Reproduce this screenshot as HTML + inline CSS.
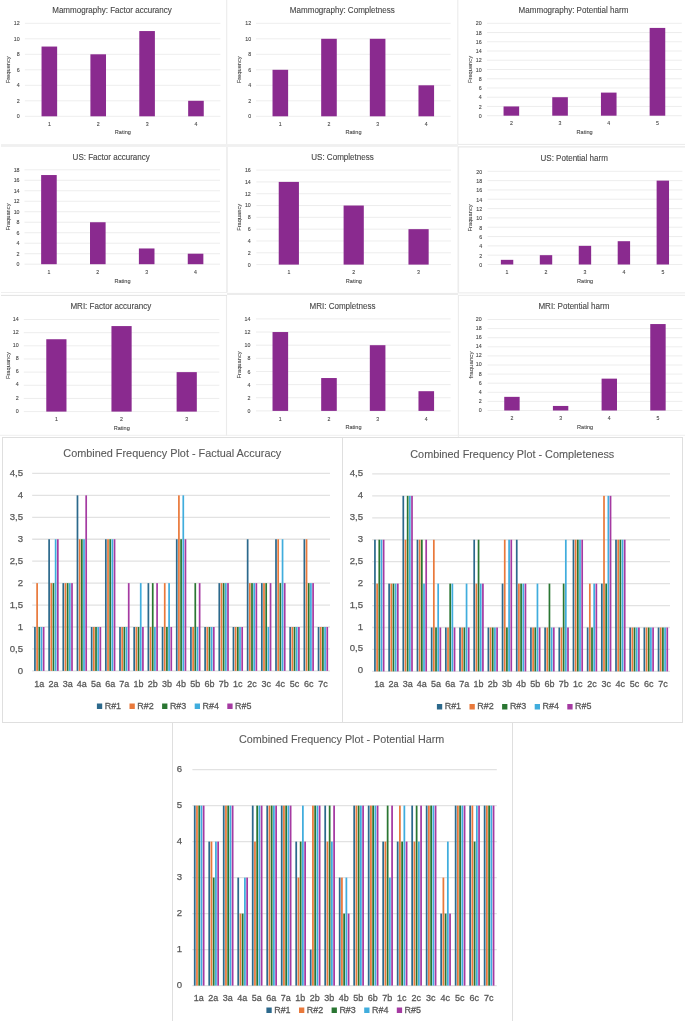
<!DOCTYPE html>
<html><head><meta charset="utf-8"><title>Frequency plots</title>
<style>
html,body{margin:0;padding:0;background:#fff;}
body{width:685px;height:1021px;overflow:hidden;}
svg{display:block;font-family:"Liberation Sans", sans-serif;}
</style></head><body>
<svg width="685" height="1021" viewBox="0 0 685 1021">
<rect width="685" height="1021" fill="#ffffff"/>
<!--BORDERS-->
<line x1="226.70" y1="0.00" x2="226.70" y2="144.50" stroke="#ebebeb" stroke-width="1.1"/>
<line x1="226.50" y1="295.00" x2="226.50" y2="436.00" stroke="#ebebeb" stroke-width="1.1"/>
<line x1="457.80" y1="0.00" x2="457.80" y2="144.50" stroke="#ebebeb" stroke-width="1.1"/>
<line x1="458.40" y1="295.30" x2="458.40" y2="436.70" stroke="#ebebeb" stroke-width="1.1"/>
<rect x="226.00" y="146.50" width="1.90" height="146.00" fill="#efefef"/>
<rect x="457.50" y="147.00" width="1.60" height="145.50" fill="#ececec"/>
<rect x="1.00" y="144.10" width="457.00" height="2.80" fill="#f0f0f0"/>
<line x1="458.00" y1="144.40" x2="685.00" y2="144.40" stroke="#eaeaea" stroke-width="1"/>
<line x1="458.00" y1="146.90" x2="685.00" y2="146.90" stroke="#e4e4e4" stroke-width="1"/>
<line x1="1.00" y1="292.50" x2="227.00" y2="292.50" stroke="#efefef" stroke-width="1"/>
<line x1="1.00" y1="295.40" x2="227.00" y2="295.40" stroke="#e2e2e2" stroke-width="1"/>
<rect x="227.00" y="292.90" width="231.00" height="2.10" fill="#ececec"/>
<line x1="458.00" y1="292.90" x2="685.00" y2="292.90" stroke="#eaeaea" stroke-width="1"/>
<line x1="458.00" y1="295.30" x2="685.00" y2="295.30" stroke="#eaeaea" stroke-width="1"/>
<line x1="0.00" y1="435.30" x2="685.00" y2="435.30" stroke="#efefef" stroke-width="1"/>
<line x1="24.90" y1="116.30" x2="220.40" y2="116.30" stroke="#e0e0e0" stroke-width="0.6"/>
<text x="19.60" y="116.35" font-size="5.3" text-anchor="end" dominant-baseline="central" fill="#484848" stroke="#484848" stroke-width="0.1">0</text>
<line x1="24.90" y1="100.80" x2="220.40" y2="100.80" stroke="#e0e0e0" stroke-width="0.6"/>
<text x="19.60" y="100.85" font-size="5.3" text-anchor="end" dominant-baseline="central" fill="#484848" stroke="#484848" stroke-width="0.1">2</text>
<line x1="24.90" y1="85.30" x2="220.40" y2="85.30" stroke="#e0e0e0" stroke-width="0.6"/>
<text x="19.60" y="85.35" font-size="5.3" text-anchor="end" dominant-baseline="central" fill="#484848" stroke="#484848" stroke-width="0.1">4</text>
<line x1="24.90" y1="69.80" x2="220.40" y2="69.80" stroke="#e0e0e0" stroke-width="0.6"/>
<text x="19.60" y="69.85" font-size="5.3" text-anchor="end" dominant-baseline="central" fill="#484848" stroke="#484848" stroke-width="0.1">6</text>
<line x1="24.90" y1="54.30" x2="220.40" y2="54.30" stroke="#e0e0e0" stroke-width="0.6"/>
<text x="19.60" y="54.35" font-size="5.3" text-anchor="end" dominant-baseline="central" fill="#484848" stroke="#484848" stroke-width="0.1">8</text>
<line x1="24.90" y1="38.80" x2="220.40" y2="38.80" stroke="#e0e0e0" stroke-width="0.6"/>
<text x="19.60" y="38.85" font-size="5.3" text-anchor="end" dominant-baseline="central" fill="#484848" stroke="#484848" stroke-width="0.1">10</text>
<line x1="24.90" y1="23.30" x2="220.40" y2="23.30" stroke="#e0e0e0" stroke-width="0.6"/>
<text x="19.60" y="23.35" font-size="5.3" text-anchor="end" dominant-baseline="central" fill="#484848" stroke="#484848" stroke-width="0.1">12</text>
<rect x="41.54" y="46.55" width="15.60" height="69.75" fill="#8a2a8f"/>
<text x="49.34" y="124.20" font-size="5.2" text-anchor="middle" dominant-baseline="central" fill="#484848" stroke="#484848" stroke-width="0.1">1</text>
<rect x="90.41" y="54.30" width="15.60" height="62.00" fill="#8a2a8f"/>
<text x="98.21" y="124.20" font-size="5.2" text-anchor="middle" dominant-baseline="central" fill="#484848" stroke="#484848" stroke-width="0.1">2</text>
<rect x="139.29" y="31.05" width="15.60" height="85.25" fill="#8a2a8f"/>
<text x="147.09" y="124.20" font-size="5.2" text-anchor="middle" dominant-baseline="central" fill="#484848" stroke="#484848" stroke-width="0.1">3</text>
<rect x="188.16" y="100.80" width="15.60" height="15.50" fill="#8a2a8f"/>
<text x="195.96" y="124.20" font-size="5.2" text-anchor="middle" dominant-baseline="central" fill="#484848" stroke="#484848" stroke-width="0.1">4</text>
<text x="122.85" y="131.60" font-size="6.1" text-anchor="middle" dominant-baseline="central" fill="#484848" stroke="#484848" stroke-width="0.1" textLength="16.1" lengthAdjust="spacingAndGlyphs">Rating</text>
<text x="7.40" y="69.80" font-size="6.1" text-anchor="middle" dominant-baseline="central" fill="#484848" stroke="#484848" stroke-width="0.1" textLength="27.0" lengthAdjust="spacingAndGlyphs" transform="rotate(-90 7.40 69.80)">Frequency</text>
<text x="112.00" y="10.00" font-size="8.6" text-anchor="middle" dominant-baseline="central" fill="#484848" stroke="#484848" stroke-width="0.12" textLength="119.6" lengthAdjust="spacingAndGlyphs">Mammography: Factor accurancy</text>
<line x1="256.00" y1="116.30" x2="450.60" y2="116.30" stroke="#e0e0e0" stroke-width="0.6"/>
<text x="251.10" y="116.35" font-size="5.3" text-anchor="end" dominant-baseline="central" fill="#484848" stroke="#484848" stroke-width="0.1">0</text>
<line x1="256.00" y1="100.80" x2="450.60" y2="100.80" stroke="#e0e0e0" stroke-width="0.6"/>
<text x="251.10" y="100.85" font-size="5.3" text-anchor="end" dominant-baseline="central" fill="#484848" stroke="#484848" stroke-width="0.1">2</text>
<line x1="256.00" y1="85.30" x2="450.60" y2="85.30" stroke="#e0e0e0" stroke-width="0.6"/>
<text x="251.10" y="85.35" font-size="5.3" text-anchor="end" dominant-baseline="central" fill="#484848" stroke="#484848" stroke-width="0.1">4</text>
<line x1="256.00" y1="69.80" x2="450.60" y2="69.80" stroke="#e0e0e0" stroke-width="0.6"/>
<text x="251.10" y="69.85" font-size="5.3" text-anchor="end" dominant-baseline="central" fill="#484848" stroke="#484848" stroke-width="0.1">6</text>
<line x1="256.00" y1="54.30" x2="450.60" y2="54.30" stroke="#e0e0e0" stroke-width="0.6"/>
<text x="251.10" y="54.35" font-size="5.3" text-anchor="end" dominant-baseline="central" fill="#484848" stroke="#484848" stroke-width="0.1">8</text>
<line x1="256.00" y1="38.80" x2="450.60" y2="38.80" stroke="#e0e0e0" stroke-width="0.6"/>
<text x="251.10" y="38.85" font-size="5.3" text-anchor="end" dominant-baseline="central" fill="#484848" stroke="#484848" stroke-width="0.1">10</text>
<line x1="256.00" y1="23.30" x2="450.60" y2="23.30" stroke="#e0e0e0" stroke-width="0.6"/>
<text x="251.10" y="23.35" font-size="5.3" text-anchor="end" dominant-baseline="central" fill="#484848" stroke="#484848" stroke-width="0.1">12</text>
<rect x="272.52" y="69.80" width="15.60" height="46.50" fill="#8a2a8f"/>
<text x="280.32" y="124.20" font-size="5.2" text-anchor="middle" dominant-baseline="central" fill="#484848" stroke="#484848" stroke-width="0.1">1</text>
<rect x="321.18" y="38.80" width="15.60" height="77.50" fill="#8a2a8f"/>
<text x="328.98" y="124.20" font-size="5.2" text-anchor="middle" dominant-baseline="central" fill="#484848" stroke="#484848" stroke-width="0.1">2</text>
<rect x="369.82" y="38.80" width="15.60" height="77.50" fill="#8a2a8f"/>
<text x="377.62" y="124.20" font-size="5.2" text-anchor="middle" dominant-baseline="central" fill="#484848" stroke="#484848" stroke-width="0.1">3</text>
<rect x="418.48" y="85.30" width="15.60" height="31.00" fill="#8a2a8f"/>
<text x="426.28" y="124.20" font-size="5.2" text-anchor="middle" dominant-baseline="central" fill="#484848" stroke="#484848" stroke-width="0.1">4</text>
<text x="353.50" y="131.60" font-size="6.1" text-anchor="middle" dominant-baseline="central" fill="#484848" stroke="#484848" stroke-width="0.1" textLength="16.1" lengthAdjust="spacingAndGlyphs">Rating</text>
<text x="238.50" y="69.80" font-size="6.1" text-anchor="middle" dominant-baseline="central" fill="#484848" stroke="#484848" stroke-width="0.1" textLength="27.0" lengthAdjust="spacingAndGlyphs" transform="rotate(-90 238.50 69.80)">Frequency</text>
<text x="342.30" y="10.00" font-size="8.6" text-anchor="middle" dominant-baseline="central" fill="#484848" stroke="#484848" stroke-width="0.12" textLength="104.9" lengthAdjust="spacingAndGlyphs">Mammography: Completness</text>
<line x1="487.00" y1="115.70" x2="681.80" y2="115.70" stroke="#e0e0e0" stroke-width="0.6"/>
<text x="481.70" y="115.85" font-size="5.3" text-anchor="end" dominant-baseline="central" fill="#484848" stroke="#484848" stroke-width="0.1">0</text>
<line x1="487.00" y1="106.46" x2="681.80" y2="106.46" stroke="#e0e0e0" stroke-width="0.6"/>
<text x="481.70" y="106.61" font-size="5.3" text-anchor="end" dominant-baseline="central" fill="#484848" stroke="#484848" stroke-width="0.1">2</text>
<line x1="487.00" y1="97.22" x2="681.80" y2="97.22" stroke="#e0e0e0" stroke-width="0.6"/>
<text x="481.70" y="97.37" font-size="5.3" text-anchor="end" dominant-baseline="central" fill="#484848" stroke="#484848" stroke-width="0.1">4</text>
<line x1="487.00" y1="87.98" x2="681.80" y2="87.98" stroke="#e0e0e0" stroke-width="0.6"/>
<text x="481.70" y="88.13" font-size="5.3" text-anchor="end" dominant-baseline="central" fill="#484848" stroke="#484848" stroke-width="0.1">6</text>
<line x1="487.00" y1="78.74" x2="681.80" y2="78.74" stroke="#e0e0e0" stroke-width="0.6"/>
<text x="481.70" y="78.89" font-size="5.3" text-anchor="end" dominant-baseline="central" fill="#484848" stroke="#484848" stroke-width="0.1">8</text>
<line x1="487.00" y1="69.50" x2="681.80" y2="69.50" stroke="#e0e0e0" stroke-width="0.6"/>
<text x="481.70" y="69.65" font-size="5.3" text-anchor="end" dominant-baseline="central" fill="#484848" stroke="#484848" stroke-width="0.1">10</text>
<line x1="487.00" y1="60.26" x2="681.80" y2="60.26" stroke="#e0e0e0" stroke-width="0.6"/>
<text x="481.70" y="60.41" font-size="5.3" text-anchor="end" dominant-baseline="central" fill="#484848" stroke="#484848" stroke-width="0.1">12</text>
<line x1="487.00" y1="51.02" x2="681.80" y2="51.02" stroke="#e0e0e0" stroke-width="0.6"/>
<text x="481.70" y="51.17" font-size="5.3" text-anchor="end" dominant-baseline="central" fill="#484848" stroke="#484848" stroke-width="0.1">14</text>
<line x1="487.00" y1="41.78" x2="681.80" y2="41.78" stroke="#e0e0e0" stroke-width="0.6"/>
<text x="481.70" y="41.93" font-size="5.3" text-anchor="end" dominant-baseline="central" fill="#484848" stroke="#484848" stroke-width="0.1">16</text>
<line x1="487.00" y1="32.54" x2="681.80" y2="32.54" stroke="#e0e0e0" stroke-width="0.6"/>
<text x="481.70" y="32.69" font-size="5.3" text-anchor="end" dominant-baseline="central" fill="#484848" stroke="#484848" stroke-width="0.1">18</text>
<line x1="487.00" y1="23.30" x2="681.80" y2="23.30" stroke="#e0e0e0" stroke-width="0.6"/>
<text x="481.70" y="23.45" font-size="5.3" text-anchor="end" dominant-baseline="central" fill="#484848" stroke="#484848" stroke-width="0.1">20</text>
<rect x="503.55" y="106.46" width="15.60" height="9.24" fill="#8a2a8f"/>
<text x="511.35" y="123.00" font-size="5.2" text-anchor="middle" dominant-baseline="central" fill="#484848" stroke="#484848" stroke-width="0.1">2</text>
<rect x="552.25" y="97.22" width="15.60" height="18.48" fill="#8a2a8f"/>
<text x="560.05" y="123.00" font-size="5.2" text-anchor="middle" dominant-baseline="central" fill="#484848" stroke="#484848" stroke-width="0.1">3</text>
<rect x="600.95" y="92.60" width="15.60" height="23.10" fill="#8a2a8f"/>
<text x="608.75" y="123.00" font-size="5.2" text-anchor="middle" dominant-baseline="central" fill="#484848" stroke="#484848" stroke-width="0.1">4</text>
<rect x="649.65" y="27.92" width="15.60" height="87.78" fill="#8a2a8f"/>
<text x="657.45" y="123.00" font-size="5.2" text-anchor="middle" dominant-baseline="central" fill="#484848" stroke="#484848" stroke-width="0.1">5</text>
<text x="584.60" y="131.50" font-size="6.1" text-anchor="middle" dominant-baseline="central" fill="#484848" stroke="#484848" stroke-width="0.1" textLength="16.1" lengthAdjust="spacingAndGlyphs">Rating</text>
<text x="469.50" y="69.50" font-size="6.1" text-anchor="middle" dominant-baseline="central" fill="#484848" stroke="#484848" stroke-width="0.1" textLength="27.0" lengthAdjust="spacingAndGlyphs" transform="rotate(-90 469.50 69.50)">Frequency</text>
<text x="573.50" y="10.00" font-size="8.6" text-anchor="middle" dominant-baseline="central" fill="#484848" stroke="#484848" stroke-width="0.12" textLength="109.8" lengthAdjust="spacingAndGlyphs">Mammography: Potential harm</text>
<line x1="24.50" y1="264.20" x2="220.00" y2="264.20" stroke="#e0e0e0" stroke-width="0.6"/>
<text x="19.55" y="264.15" font-size="5.3" text-anchor="end" dominant-baseline="central" fill="#484848" stroke="#484848" stroke-width="0.1">0</text>
<line x1="24.50" y1="253.71" x2="220.00" y2="253.71" stroke="#e0e0e0" stroke-width="0.6"/>
<text x="19.55" y="253.66" font-size="5.3" text-anchor="end" dominant-baseline="central" fill="#484848" stroke="#484848" stroke-width="0.1">2</text>
<line x1="24.50" y1="243.22" x2="220.00" y2="243.22" stroke="#e0e0e0" stroke-width="0.6"/>
<text x="19.55" y="243.17" font-size="5.3" text-anchor="end" dominant-baseline="central" fill="#484848" stroke="#484848" stroke-width="0.1">4</text>
<line x1="24.50" y1="232.73" x2="220.00" y2="232.73" stroke="#e0e0e0" stroke-width="0.6"/>
<text x="19.55" y="232.68" font-size="5.3" text-anchor="end" dominant-baseline="central" fill="#484848" stroke="#484848" stroke-width="0.1">6</text>
<line x1="24.50" y1="222.24" x2="220.00" y2="222.24" stroke="#e0e0e0" stroke-width="0.6"/>
<text x="19.55" y="222.19" font-size="5.3" text-anchor="end" dominant-baseline="central" fill="#484848" stroke="#484848" stroke-width="0.1">8</text>
<line x1="24.50" y1="211.76" x2="220.00" y2="211.76" stroke="#e0e0e0" stroke-width="0.6"/>
<text x="19.55" y="211.71" font-size="5.3" text-anchor="end" dominant-baseline="central" fill="#484848" stroke="#484848" stroke-width="0.1">10</text>
<line x1="24.50" y1="201.27" x2="220.00" y2="201.27" stroke="#e0e0e0" stroke-width="0.6"/>
<text x="19.55" y="201.22" font-size="5.3" text-anchor="end" dominant-baseline="central" fill="#484848" stroke="#484848" stroke-width="0.1">12</text>
<line x1="24.50" y1="190.78" x2="220.00" y2="190.78" stroke="#e0e0e0" stroke-width="0.6"/>
<text x="19.55" y="190.73" font-size="5.3" text-anchor="end" dominant-baseline="central" fill="#484848" stroke="#484848" stroke-width="0.1">14</text>
<line x1="24.50" y1="180.29" x2="220.00" y2="180.29" stroke="#e0e0e0" stroke-width="0.6"/>
<text x="19.55" y="180.24" font-size="5.3" text-anchor="end" dominant-baseline="central" fill="#484848" stroke="#484848" stroke-width="0.1">16</text>
<line x1="24.50" y1="169.80" x2="220.00" y2="169.80" stroke="#e0e0e0" stroke-width="0.6"/>
<text x="19.55" y="169.75" font-size="5.3" text-anchor="end" dominant-baseline="central" fill="#484848" stroke="#484848" stroke-width="0.1">18</text>
<rect x="41.14" y="175.04" width="15.60" height="89.16" fill="#8a2a8f"/>
<text x="48.94" y="272.00" font-size="5.2" text-anchor="middle" dominant-baseline="central" fill="#484848" stroke="#484848" stroke-width="0.1">1</text>
<rect x="90.01" y="222.24" width="15.60" height="41.96" fill="#8a2a8f"/>
<text x="97.81" y="272.00" font-size="5.2" text-anchor="middle" dominant-baseline="central" fill="#484848" stroke="#484848" stroke-width="0.1">2</text>
<rect x="138.89" y="248.47" width="15.60" height="15.73" fill="#8a2a8f"/>
<text x="146.69" y="272.00" font-size="5.2" text-anchor="middle" dominant-baseline="central" fill="#484848" stroke="#484848" stroke-width="0.1">3</text>
<rect x="187.76" y="253.71" width="15.60" height="10.49" fill="#8a2a8f"/>
<text x="195.56" y="272.00" font-size="5.2" text-anchor="middle" dominant-baseline="central" fill="#484848" stroke="#484848" stroke-width="0.1">4</text>
<text x="122.45" y="280.20" font-size="6.1" text-anchor="middle" dominant-baseline="central" fill="#484848" stroke="#484848" stroke-width="0.1" textLength="16.1" lengthAdjust="spacingAndGlyphs">Rating</text>
<text x="7.40" y="217.00" font-size="6.1" text-anchor="middle" dominant-baseline="central" fill="#484848" stroke="#484848" stroke-width="0.1" textLength="27.0" lengthAdjust="spacingAndGlyphs" transform="rotate(-90 7.40 217.00)">Fraquancy</text>
<text x="111.20" y="156.50" font-size="8.6" text-anchor="middle" dominant-baseline="central" fill="#484848" stroke="#484848" stroke-width="0.12" textLength="77.2" lengthAdjust="spacingAndGlyphs">US: Factor accurancy</text>
<line x1="256.40" y1="264.60" x2="451.00" y2="264.60" stroke="#e0e0e0" stroke-width="0.6"/>
<text x="250.80" y="264.55" font-size="5.3" text-anchor="end" dominant-baseline="central" fill="#484848" stroke="#484848" stroke-width="0.1">0</text>
<line x1="256.40" y1="252.79" x2="451.00" y2="252.79" stroke="#e0e0e0" stroke-width="0.6"/>
<text x="250.80" y="252.74" font-size="5.3" text-anchor="end" dominant-baseline="central" fill="#484848" stroke="#484848" stroke-width="0.1">2</text>
<line x1="256.40" y1="240.98" x2="451.00" y2="240.98" stroke="#e0e0e0" stroke-width="0.6"/>
<text x="250.80" y="240.93" font-size="5.3" text-anchor="end" dominant-baseline="central" fill="#484848" stroke="#484848" stroke-width="0.1">4</text>
<line x1="256.40" y1="229.16" x2="451.00" y2="229.16" stroke="#e0e0e0" stroke-width="0.6"/>
<text x="250.80" y="229.11" font-size="5.3" text-anchor="end" dominant-baseline="central" fill="#484848" stroke="#484848" stroke-width="0.1">6</text>
<line x1="256.40" y1="217.35" x2="451.00" y2="217.35" stroke="#e0e0e0" stroke-width="0.6"/>
<text x="250.80" y="217.30" font-size="5.3" text-anchor="end" dominant-baseline="central" fill="#484848" stroke="#484848" stroke-width="0.1">8</text>
<line x1="256.40" y1="205.54" x2="451.00" y2="205.54" stroke="#e0e0e0" stroke-width="0.6"/>
<text x="250.80" y="205.49" font-size="5.3" text-anchor="end" dominant-baseline="central" fill="#484848" stroke="#484848" stroke-width="0.1">10</text>
<line x1="256.40" y1="193.72" x2="451.00" y2="193.72" stroke="#e0e0e0" stroke-width="0.6"/>
<text x="250.80" y="193.68" font-size="5.3" text-anchor="end" dominant-baseline="central" fill="#484848" stroke="#484848" stroke-width="0.1">12</text>
<line x1="256.40" y1="181.91" x2="451.00" y2="181.91" stroke="#e0e0e0" stroke-width="0.6"/>
<text x="250.80" y="181.86" font-size="5.3" text-anchor="end" dominant-baseline="central" fill="#484848" stroke="#484848" stroke-width="0.1">14</text>
<line x1="256.40" y1="170.10" x2="451.00" y2="170.10" stroke="#e0e0e0" stroke-width="0.6"/>
<text x="250.80" y="170.05" font-size="5.3" text-anchor="end" dominant-baseline="central" fill="#484848" stroke="#484848" stroke-width="0.1">16</text>
<rect x="278.73" y="181.91" width="20.20" height="82.69" fill="#8a2a8f"/>
<text x="288.83" y="272.00" font-size="5.2" text-anchor="middle" dominant-baseline="central" fill="#484848" stroke="#484848" stroke-width="0.1">1</text>
<rect x="343.60" y="205.54" width="20.20" height="59.06" fill="#8a2a8f"/>
<text x="353.70" y="272.00" font-size="5.2" text-anchor="middle" dominant-baseline="central" fill="#484848" stroke="#484848" stroke-width="0.1">2</text>
<rect x="408.47" y="229.16" width="20.20" height="35.44" fill="#8a2a8f"/>
<text x="418.57" y="272.00" font-size="5.2" text-anchor="middle" dominant-baseline="central" fill="#484848" stroke="#484848" stroke-width="0.1">3</text>
<text x="353.90" y="280.20" font-size="6.1" text-anchor="middle" dominant-baseline="central" fill="#484848" stroke="#484848" stroke-width="0.1" textLength="16.1" lengthAdjust="spacingAndGlyphs">Rating</text>
<text x="238.50" y="217.35" font-size="6.1" text-anchor="middle" dominant-baseline="central" fill="#484848" stroke="#484848" stroke-width="0.1" textLength="27.0" lengthAdjust="spacingAndGlyphs" transform="rotate(-90 238.50 217.35)">Fraquancy</text>
<text x="342.50" y="156.50" font-size="8.6" text-anchor="middle" dominant-baseline="central" fill="#484848" stroke="#484848" stroke-width="0.12" textLength="62.5" lengthAdjust="spacingAndGlyphs">US: Completness</text>
<line x1="487.60" y1="264.50" x2="682.30" y2="264.50" stroke="#e0e0e0" stroke-width="0.6"/>
<text x="482.20" y="264.85" font-size="5.3" text-anchor="end" dominant-baseline="central" fill="#484848" stroke="#484848" stroke-width="0.1">0</text>
<line x1="487.60" y1="255.18" x2="682.30" y2="255.18" stroke="#e0e0e0" stroke-width="0.6"/>
<text x="482.20" y="255.53" font-size="5.3" text-anchor="end" dominant-baseline="central" fill="#484848" stroke="#484848" stroke-width="0.1">2</text>
<line x1="487.60" y1="245.86" x2="682.30" y2="245.86" stroke="#e0e0e0" stroke-width="0.6"/>
<text x="482.20" y="246.21" font-size="5.3" text-anchor="end" dominant-baseline="central" fill="#484848" stroke="#484848" stroke-width="0.1">4</text>
<line x1="487.60" y1="236.54" x2="682.30" y2="236.54" stroke="#e0e0e0" stroke-width="0.6"/>
<text x="482.20" y="236.89" font-size="5.3" text-anchor="end" dominant-baseline="central" fill="#484848" stroke="#484848" stroke-width="0.1">6</text>
<line x1="487.60" y1="227.22" x2="682.30" y2="227.22" stroke="#e0e0e0" stroke-width="0.6"/>
<text x="482.20" y="227.57" font-size="5.3" text-anchor="end" dominant-baseline="central" fill="#484848" stroke="#484848" stroke-width="0.1">8</text>
<line x1="487.60" y1="217.90" x2="682.30" y2="217.90" stroke="#e0e0e0" stroke-width="0.6"/>
<text x="482.20" y="218.25" font-size="5.3" text-anchor="end" dominant-baseline="central" fill="#484848" stroke="#484848" stroke-width="0.1">10</text>
<line x1="487.60" y1="208.58" x2="682.30" y2="208.58" stroke="#e0e0e0" stroke-width="0.6"/>
<text x="482.20" y="208.93" font-size="5.3" text-anchor="end" dominant-baseline="central" fill="#484848" stroke="#484848" stroke-width="0.1">12</text>
<line x1="487.60" y1="199.26" x2="682.30" y2="199.26" stroke="#e0e0e0" stroke-width="0.6"/>
<text x="482.20" y="199.61" font-size="5.3" text-anchor="end" dominant-baseline="central" fill="#484848" stroke="#484848" stroke-width="0.1">14</text>
<line x1="487.60" y1="189.94" x2="682.30" y2="189.94" stroke="#e0e0e0" stroke-width="0.6"/>
<text x="482.20" y="190.29" font-size="5.3" text-anchor="end" dominant-baseline="central" fill="#484848" stroke="#484848" stroke-width="0.1">16</text>
<line x1="487.60" y1="180.62" x2="682.30" y2="180.62" stroke="#e0e0e0" stroke-width="0.6"/>
<text x="482.20" y="180.97" font-size="5.3" text-anchor="end" dominant-baseline="central" fill="#484848" stroke="#484848" stroke-width="0.1">18</text>
<line x1="487.60" y1="171.30" x2="682.30" y2="171.30" stroke="#e0e0e0" stroke-width="0.6"/>
<text x="482.20" y="171.65" font-size="5.3" text-anchor="end" dominant-baseline="central" fill="#484848" stroke="#484848" stroke-width="0.1">20</text>
<rect x="500.87" y="259.84" width="12.40" height="4.66" fill="#8a2a8f"/>
<text x="507.07" y="272.00" font-size="5.2" text-anchor="middle" dominant-baseline="central" fill="#484848" stroke="#484848" stroke-width="0.1">1</text>
<rect x="539.81" y="255.18" width="12.40" height="9.32" fill="#8a2a8f"/>
<text x="546.01" y="272.00" font-size="5.2" text-anchor="middle" dominant-baseline="central" fill="#484848" stroke="#484848" stroke-width="0.1">2</text>
<rect x="578.75" y="245.86" width="12.40" height="18.64" fill="#8a2a8f"/>
<text x="584.95" y="272.00" font-size="5.2" text-anchor="middle" dominant-baseline="central" fill="#484848" stroke="#484848" stroke-width="0.1">3</text>
<rect x="617.69" y="241.20" width="12.40" height="23.30" fill="#8a2a8f"/>
<text x="623.89" y="272.00" font-size="5.2" text-anchor="middle" dominant-baseline="central" fill="#484848" stroke="#484848" stroke-width="0.1">4</text>
<rect x="656.63" y="180.62" width="12.40" height="83.88" fill="#8a2a8f"/>
<text x="662.83" y="272.00" font-size="5.2" text-anchor="middle" dominant-baseline="central" fill="#484848" stroke="#484848" stroke-width="0.1">5</text>
<text x="585.15" y="280.20" font-size="6.1" text-anchor="middle" dominant-baseline="central" fill="#484848" stroke="#484848" stroke-width="0.1" textLength="16.1" lengthAdjust="spacingAndGlyphs">Rating</text>
<text x="470.00" y="217.90" font-size="6.1" text-anchor="middle" dominant-baseline="central" fill="#484848" stroke="#484848" stroke-width="0.1" textLength="27.0" lengthAdjust="spacingAndGlyphs" transform="rotate(-90 470.00 217.90)">Fraquancy</text>
<text x="574.20" y="158.30" font-size="8.6" text-anchor="middle" dominant-baseline="central" fill="#484848" stroke="#484848" stroke-width="0.12" textLength="67.4" lengthAdjust="spacingAndGlyphs">US: Potential harm</text>
<line x1="23.80" y1="411.60" x2="219.30" y2="411.60" stroke="#e0e0e0" stroke-width="0.6"/>
<text x="18.70" y="410.75" font-size="5.3" text-anchor="end" dominant-baseline="central" fill="#484848" stroke="#484848" stroke-width="0.1">0</text>
<line x1="23.80" y1="398.44" x2="219.30" y2="398.44" stroke="#e0e0e0" stroke-width="0.6"/>
<text x="18.70" y="397.59" font-size="5.3" text-anchor="end" dominant-baseline="central" fill="#484848" stroke="#484848" stroke-width="0.1">2</text>
<line x1="23.80" y1="385.29" x2="219.30" y2="385.29" stroke="#e0e0e0" stroke-width="0.6"/>
<text x="18.70" y="384.44" font-size="5.3" text-anchor="end" dominant-baseline="central" fill="#484848" stroke="#484848" stroke-width="0.1">4</text>
<line x1="23.80" y1="372.13" x2="219.30" y2="372.13" stroke="#e0e0e0" stroke-width="0.6"/>
<text x="18.70" y="371.28" font-size="5.3" text-anchor="end" dominant-baseline="central" fill="#484848" stroke="#484848" stroke-width="0.1">6</text>
<line x1="23.80" y1="358.97" x2="219.30" y2="358.97" stroke="#e0e0e0" stroke-width="0.6"/>
<text x="18.70" y="358.12" font-size="5.3" text-anchor="end" dominant-baseline="central" fill="#484848" stroke="#484848" stroke-width="0.1">8</text>
<line x1="23.80" y1="345.81" x2="219.30" y2="345.81" stroke="#e0e0e0" stroke-width="0.6"/>
<text x="18.70" y="344.96" font-size="5.3" text-anchor="end" dominant-baseline="central" fill="#484848" stroke="#484848" stroke-width="0.1">10</text>
<line x1="23.80" y1="332.66" x2="219.30" y2="332.66" stroke="#e0e0e0" stroke-width="0.6"/>
<text x="18.70" y="331.81" font-size="5.3" text-anchor="end" dominant-baseline="central" fill="#484848" stroke="#484848" stroke-width="0.1">12</text>
<line x1="23.80" y1="319.50" x2="219.30" y2="319.50" stroke="#e0e0e0" stroke-width="0.6"/>
<text x="18.70" y="318.65" font-size="5.3" text-anchor="end" dominant-baseline="central" fill="#484848" stroke="#484848" stroke-width="0.1">14</text>
<rect x="46.28" y="339.24" width="20.20" height="72.36" fill="#8a2a8f"/>
<text x="56.38" y="419.30" font-size="5.2" text-anchor="middle" dominant-baseline="central" fill="#484848" stroke="#484848" stroke-width="0.1">1</text>
<rect x="111.45" y="326.08" width="20.20" height="85.52" fill="#8a2a8f"/>
<text x="121.55" y="419.30" font-size="5.2" text-anchor="middle" dominant-baseline="central" fill="#484848" stroke="#484848" stroke-width="0.1">2</text>
<rect x="176.62" y="372.13" width="20.20" height="39.47" fill="#8a2a8f"/>
<text x="186.72" y="419.30" font-size="5.2" text-anchor="middle" dominant-baseline="central" fill="#484848" stroke="#484848" stroke-width="0.1">3</text>
<text x="121.75" y="427.20" font-size="6.1" text-anchor="middle" dominant-baseline="central" fill="#484848" stroke="#484848" stroke-width="0.1" textLength="16.1" lengthAdjust="spacingAndGlyphs">Rating</text>
<text x="7.40" y="365.55" font-size="6.1" text-anchor="middle" dominant-baseline="central" fill="#484848" stroke="#484848" stroke-width="0.1" textLength="27.0" lengthAdjust="spacingAndGlyphs" transform="rotate(-90 7.40 365.55)">Fraquancy</text>
<text x="110.80" y="305.90" font-size="8.6" text-anchor="middle" dominant-baseline="central" fill="#484848" stroke="#484848" stroke-width="0.12" textLength="80.8" lengthAdjust="spacingAndGlyphs">MRI: Factor accurancy</text>
<line x1="256.00" y1="410.90" x2="450.60" y2="410.90" stroke="#e0e0e0" stroke-width="0.6"/>
<text x="250.40" y="411.05" font-size="5.3" text-anchor="end" dominant-baseline="central" fill="#484848" stroke="#484848" stroke-width="0.1">0</text>
<line x1="256.00" y1="397.76" x2="450.60" y2="397.76" stroke="#e0e0e0" stroke-width="0.6"/>
<text x="250.40" y="397.91" font-size="5.3" text-anchor="end" dominant-baseline="central" fill="#484848" stroke="#484848" stroke-width="0.1">2</text>
<line x1="256.00" y1="384.61" x2="450.60" y2="384.61" stroke="#e0e0e0" stroke-width="0.6"/>
<text x="250.40" y="384.76" font-size="5.3" text-anchor="end" dominant-baseline="central" fill="#484848" stroke="#484848" stroke-width="0.1">4</text>
<line x1="256.00" y1="371.47" x2="450.60" y2="371.47" stroke="#e0e0e0" stroke-width="0.6"/>
<text x="250.40" y="371.62" font-size="5.3" text-anchor="end" dominant-baseline="central" fill="#484848" stroke="#484848" stroke-width="0.1">6</text>
<line x1="256.00" y1="358.33" x2="450.60" y2="358.33" stroke="#e0e0e0" stroke-width="0.6"/>
<text x="250.40" y="358.48" font-size="5.3" text-anchor="end" dominant-baseline="central" fill="#484848" stroke="#484848" stroke-width="0.1">8</text>
<line x1="256.00" y1="345.19" x2="450.60" y2="345.19" stroke="#e0e0e0" stroke-width="0.6"/>
<text x="250.40" y="345.34" font-size="5.3" text-anchor="end" dominant-baseline="central" fill="#484848" stroke="#484848" stroke-width="0.1">10</text>
<line x1="256.00" y1="332.04" x2="450.60" y2="332.04" stroke="#e0e0e0" stroke-width="0.6"/>
<text x="250.40" y="332.19" font-size="5.3" text-anchor="end" dominant-baseline="central" fill="#484848" stroke="#484848" stroke-width="0.1">12</text>
<line x1="256.00" y1="318.90" x2="450.60" y2="318.90" stroke="#e0e0e0" stroke-width="0.6"/>
<text x="250.40" y="319.05" font-size="5.3" text-anchor="end" dominant-baseline="central" fill="#484848" stroke="#484848" stroke-width="0.1">14</text>
<rect x="272.52" y="332.04" width="15.60" height="78.86" fill="#8a2a8f"/>
<text x="280.32" y="418.60" font-size="5.2" text-anchor="middle" dominant-baseline="central" fill="#484848" stroke="#484848" stroke-width="0.1">1</text>
<rect x="321.18" y="378.04" width="15.60" height="32.86" fill="#8a2a8f"/>
<text x="328.98" y="418.60" font-size="5.2" text-anchor="middle" dominant-baseline="central" fill="#484848" stroke="#484848" stroke-width="0.1">2</text>
<rect x="369.82" y="345.19" width="15.60" height="65.71" fill="#8a2a8f"/>
<text x="377.62" y="418.60" font-size="5.2" text-anchor="middle" dominant-baseline="central" fill="#484848" stroke="#484848" stroke-width="0.1">3</text>
<rect x="418.48" y="391.19" width="15.60" height="19.71" fill="#8a2a8f"/>
<text x="426.28" y="418.60" font-size="5.2" text-anchor="middle" dominant-baseline="central" fill="#484848" stroke="#484848" stroke-width="0.1">4</text>
<text x="353.50" y="426.90" font-size="6.1" text-anchor="middle" dominant-baseline="central" fill="#484848" stroke="#484848" stroke-width="0.1" textLength="16.1" lengthAdjust="spacingAndGlyphs">Rating</text>
<text x="238.50" y="364.90" font-size="6.1" text-anchor="middle" dominant-baseline="central" fill="#484848" stroke="#484848" stroke-width="0.1" textLength="27.0" lengthAdjust="spacingAndGlyphs" transform="rotate(-90 238.50 364.90)">Fraquancy</text>
<text x="342.50" y="305.50" font-size="8.6" text-anchor="middle" dominant-baseline="central" fill="#484848" stroke="#484848" stroke-width="0.12" textLength="66.0" lengthAdjust="spacingAndGlyphs">MRI: Completness</text>
<line x1="487.60" y1="410.50" x2="682.30" y2="410.50" stroke="#e0e0e0" stroke-width="0.6"/>
<text x="481.60" y="409.90" font-size="5.3" text-anchor="end" dominant-baseline="central" fill="#484848" stroke="#484848" stroke-width="0.1">0</text>
<line x1="487.60" y1="401.40" x2="682.30" y2="401.40" stroke="#e0e0e0" stroke-width="0.6"/>
<text x="481.60" y="400.80" font-size="5.3" text-anchor="end" dominant-baseline="central" fill="#484848" stroke="#484848" stroke-width="0.1">2</text>
<line x1="487.60" y1="392.30" x2="682.30" y2="392.30" stroke="#e0e0e0" stroke-width="0.6"/>
<text x="481.60" y="391.70" font-size="5.3" text-anchor="end" dominant-baseline="central" fill="#484848" stroke="#484848" stroke-width="0.1">4</text>
<line x1="487.60" y1="383.20" x2="682.30" y2="383.20" stroke="#e0e0e0" stroke-width="0.6"/>
<text x="481.60" y="382.60" font-size="5.3" text-anchor="end" dominant-baseline="central" fill="#484848" stroke="#484848" stroke-width="0.1">6</text>
<line x1="487.60" y1="374.10" x2="682.30" y2="374.10" stroke="#e0e0e0" stroke-width="0.6"/>
<text x="481.60" y="373.50" font-size="5.3" text-anchor="end" dominant-baseline="central" fill="#484848" stroke="#484848" stroke-width="0.1">8</text>
<line x1="487.60" y1="365.00" x2="682.30" y2="365.00" stroke="#e0e0e0" stroke-width="0.6"/>
<text x="481.60" y="364.40" font-size="5.3" text-anchor="end" dominant-baseline="central" fill="#484848" stroke="#484848" stroke-width="0.1">10</text>
<line x1="487.60" y1="355.90" x2="682.30" y2="355.90" stroke="#e0e0e0" stroke-width="0.6"/>
<text x="481.60" y="355.30" font-size="5.3" text-anchor="end" dominant-baseline="central" fill="#484848" stroke="#484848" stroke-width="0.1">12</text>
<line x1="487.60" y1="346.80" x2="682.30" y2="346.80" stroke="#e0e0e0" stroke-width="0.6"/>
<text x="481.60" y="346.20" font-size="5.3" text-anchor="end" dominant-baseline="central" fill="#484848" stroke="#484848" stroke-width="0.1">14</text>
<line x1="487.60" y1="337.70" x2="682.30" y2="337.70" stroke="#e0e0e0" stroke-width="0.6"/>
<text x="481.60" y="337.10" font-size="5.3" text-anchor="end" dominant-baseline="central" fill="#484848" stroke="#484848" stroke-width="0.1">16</text>
<line x1="487.60" y1="328.60" x2="682.30" y2="328.60" stroke="#e0e0e0" stroke-width="0.6"/>
<text x="481.60" y="328.00" font-size="5.3" text-anchor="end" dominant-baseline="central" fill="#484848" stroke="#484848" stroke-width="0.1">18</text>
<line x1="487.60" y1="319.50" x2="682.30" y2="319.50" stroke="#e0e0e0" stroke-width="0.6"/>
<text x="481.60" y="318.90" font-size="5.3" text-anchor="end" dominant-baseline="central" fill="#484848" stroke="#484848" stroke-width="0.1">20</text>
<rect x="504.24" y="396.85" width="15.40" height="13.65" fill="#8a2a8f"/>
<text x="511.94" y="418.30" font-size="5.2" text-anchor="middle" dominant-baseline="central" fill="#484848" stroke="#484848" stroke-width="0.1">2</text>
<rect x="552.91" y="405.95" width="15.40" height="4.55" fill="#8a2a8f"/>
<text x="560.61" y="418.30" font-size="5.2" text-anchor="middle" dominant-baseline="central" fill="#484848" stroke="#484848" stroke-width="0.1">3</text>
<rect x="601.59" y="378.65" width="15.40" height="31.85" fill="#8a2a8f"/>
<text x="609.29" y="418.30" font-size="5.2" text-anchor="middle" dominant-baseline="central" fill="#484848" stroke="#484848" stroke-width="0.1">4</text>
<rect x="650.26" y="324.05" width="15.40" height="86.45" fill="#8a2a8f"/>
<text x="657.96" y="418.30" font-size="5.2" text-anchor="middle" dominant-baseline="central" fill="#484848" stroke="#484848" stroke-width="0.1">5</text>
<text x="585.15" y="426.90" font-size="6.1" text-anchor="middle" dominant-baseline="central" fill="#484848" stroke="#484848" stroke-width="0.1" textLength="16.1" lengthAdjust="spacingAndGlyphs">Rating</text>
<text x="470.00" y="365.00" font-size="6.1" text-anchor="middle" dominant-baseline="central" fill="#484848" stroke="#484848" stroke-width="0.1" textLength="27.0" lengthAdjust="spacingAndGlyphs" transform="rotate(-90 470.00 365.00)">fraquancy</text>
<text x="573.90" y="305.90" font-size="8.6" text-anchor="middle" dominant-baseline="central" fill="#484848" stroke="#484848" stroke-width="0.12" textLength="71.0" lengthAdjust="spacingAndGlyphs">MRI: Potential harm</text>
<rect x="2.5" y="437.5" width="340.00" height="285.00" fill="#fff" stroke="#dfdfdf" stroke-width="1"/>
<line x1="32.20" y1="670.90" x2="330.00" y2="670.90" stroke="#e2e2e2" stroke-width="1.3"/>
<text x="23.00" y="670.10" font-size="9.6" text-anchor="end" dominant-baseline="central" fill="#595959" stroke="#595959" stroke-width="0.25">0</text>
<line x1="32.20" y1="648.96" x2="330.00" y2="648.96" stroke="#e2e2e2" stroke-width="1.3"/>
<text x="23.00" y="648.16" font-size="9.6" text-anchor="end" dominant-baseline="central" fill="#595959" stroke="#595959" stroke-width="0.25">0,5</text>
<line x1="32.20" y1="627.01" x2="330.00" y2="627.01" stroke="#e2e2e2" stroke-width="1.3"/>
<text x="23.00" y="626.21" font-size="9.6" text-anchor="end" dominant-baseline="central" fill="#595959" stroke="#595959" stroke-width="0.25">1</text>
<line x1="32.20" y1="605.07" x2="330.00" y2="605.07" stroke="#e2e2e2" stroke-width="1.3"/>
<text x="23.00" y="604.27" font-size="9.6" text-anchor="end" dominant-baseline="central" fill="#595959" stroke="#595959" stroke-width="0.25">1,5</text>
<line x1="32.20" y1="583.12" x2="330.00" y2="583.12" stroke="#e2e2e2" stroke-width="1.3"/>
<text x="23.00" y="582.32" font-size="9.6" text-anchor="end" dominant-baseline="central" fill="#595959" stroke="#595959" stroke-width="0.25">2</text>
<line x1="32.20" y1="561.18" x2="330.00" y2="561.18" stroke="#e2e2e2" stroke-width="1.3"/>
<text x="23.00" y="560.38" font-size="9.6" text-anchor="end" dominant-baseline="central" fill="#595959" stroke="#595959" stroke-width="0.25">2,5</text>
<line x1="32.20" y1="539.23" x2="330.00" y2="539.23" stroke="#e2e2e2" stroke-width="1.3"/>
<text x="23.00" y="538.43" font-size="9.6" text-anchor="end" dominant-baseline="central" fill="#595959" stroke="#595959" stroke-width="0.25">3</text>
<line x1="32.20" y1="517.29" x2="330.00" y2="517.29" stroke="#e2e2e2" stroke-width="1.3"/>
<text x="23.00" y="516.49" font-size="9.6" text-anchor="end" dominant-baseline="central" fill="#595959" stroke="#595959" stroke-width="0.25">3,5</text>
<line x1="32.20" y1="495.34" x2="330.00" y2="495.34" stroke="#e2e2e2" stroke-width="1.3"/>
<text x="23.00" y="494.54" font-size="9.6" text-anchor="end" dominant-baseline="central" fill="#595959" stroke="#595959" stroke-width="0.25">4</text>
<line x1="32.20" y1="473.40" x2="330.00" y2="473.40" stroke="#e2e2e2" stroke-width="1.3"/>
<text x="23.00" y="472.60" font-size="9.6" text-anchor="end" dominant-baseline="central" fill="#595959" stroke="#595959" stroke-width="0.25">4,5</text>
<rect x="34.08" y="627.01" width="1.71" height="43.89" fill="#2c698c"/>
<rect x="36.26" y="583.12" width="1.71" height="87.78" fill="#e9793b"/>
<rect x="38.43" y="627.01" width="1.71" height="43.89" fill="#2a7632"/>
<rect x="40.61" y="627.01" width="1.71" height="43.89" fill="#40addd"/>
<rect x="42.79" y="627.01" width="1.71" height="43.89" fill="#a53aa2"/>
<text x="39.29" y="683.60" font-size="9" text-anchor="middle" dominant-baseline="central" fill="#595959" stroke="#595959" stroke-width="0.28">1a</text>
<rect x="48.26" y="539.23" width="1.71" height="131.67" fill="#2c698c"/>
<rect x="50.44" y="583.12" width="1.71" height="87.78" fill="#e9793b"/>
<rect x="52.61" y="583.12" width="1.71" height="87.78" fill="#2a7632"/>
<rect x="54.79" y="539.23" width="1.71" height="131.67" fill="#40addd"/>
<rect x="56.97" y="539.23" width="1.71" height="131.67" fill="#a53aa2"/>
<text x="53.47" y="683.60" font-size="9" text-anchor="middle" dominant-baseline="central" fill="#595959" stroke="#595959" stroke-width="0.28">2a</text>
<rect x="62.44" y="583.12" width="1.71" height="87.78" fill="#2c698c"/>
<rect x="64.62" y="583.12" width="1.71" height="87.78" fill="#e9793b"/>
<rect x="66.80" y="583.12" width="1.71" height="87.78" fill="#2a7632"/>
<rect x="68.97" y="583.12" width="1.71" height="87.78" fill="#40addd"/>
<rect x="71.15" y="583.12" width="1.71" height="87.78" fill="#a53aa2"/>
<text x="67.65" y="683.60" font-size="9" text-anchor="middle" dominant-baseline="central" fill="#595959" stroke="#595959" stroke-width="0.28">3a</text>
<rect x="76.62" y="495.34" width="1.71" height="175.56" fill="#2c698c"/>
<rect x="78.80" y="539.23" width="1.71" height="131.67" fill="#e9793b"/>
<rect x="80.98" y="539.23" width="1.71" height="131.67" fill="#2a7632"/>
<rect x="83.15" y="539.23" width="1.71" height="131.67" fill="#40addd"/>
<rect x="85.33" y="495.34" width="1.71" height="175.56" fill="#a53aa2"/>
<text x="81.83" y="683.60" font-size="9" text-anchor="middle" dominant-baseline="central" fill="#595959" stroke="#595959" stroke-width="0.28">4a</text>
<rect x="90.80" y="627.01" width="1.71" height="43.89" fill="#2c698c"/>
<rect x="92.98" y="627.01" width="1.71" height="43.89" fill="#e9793b"/>
<rect x="95.16" y="627.01" width="1.71" height="43.89" fill="#2a7632"/>
<rect x="97.33" y="627.01" width="1.71" height="43.89" fill="#40addd"/>
<rect x="99.51" y="627.01" width="1.71" height="43.89" fill="#a53aa2"/>
<text x="96.01" y="683.60" font-size="9" text-anchor="middle" dominant-baseline="central" fill="#595959" stroke="#595959" stroke-width="0.28">5a</text>
<rect x="104.98" y="539.23" width="1.71" height="131.67" fill="#2c698c"/>
<rect x="107.16" y="539.23" width="1.71" height="131.67" fill="#e9793b"/>
<rect x="109.34" y="539.23" width="1.71" height="131.67" fill="#2a7632"/>
<rect x="111.52" y="539.23" width="1.71" height="131.67" fill="#40addd"/>
<rect x="113.69" y="539.23" width="1.71" height="131.67" fill="#a53aa2"/>
<text x="110.20" y="683.60" font-size="9" text-anchor="middle" dominant-baseline="central" fill="#595959" stroke="#595959" stroke-width="0.28">6a</text>
<rect x="119.16" y="627.01" width="1.71" height="43.89" fill="#2c698c"/>
<rect x="121.34" y="627.01" width="1.71" height="43.89" fill="#e9793b"/>
<rect x="123.52" y="627.01" width="1.71" height="43.89" fill="#2a7632"/>
<rect x="125.70" y="627.01" width="1.71" height="43.89" fill="#40addd"/>
<rect x="127.87" y="583.12" width="1.71" height="87.78" fill="#a53aa2"/>
<text x="124.38" y="683.60" font-size="9" text-anchor="middle" dominant-baseline="central" fill="#595959" stroke="#595959" stroke-width="0.28">7a</text>
<rect x="133.34" y="627.01" width="1.71" height="43.89" fill="#2c698c"/>
<rect x="135.52" y="627.01" width="1.71" height="43.89" fill="#e9793b"/>
<rect x="137.70" y="627.01" width="1.71" height="43.89" fill="#2a7632"/>
<rect x="139.88" y="583.12" width="1.71" height="87.78" fill="#40addd"/>
<rect x="142.06" y="627.01" width="1.71" height="43.89" fill="#a53aa2"/>
<text x="138.56" y="683.60" font-size="9" text-anchor="middle" dominant-baseline="central" fill="#595959" stroke="#595959" stroke-width="0.28">1b</text>
<rect x="147.53" y="583.12" width="1.71" height="87.78" fill="#2c698c"/>
<rect x="149.70" y="627.01" width="1.71" height="43.89" fill="#e9793b"/>
<rect x="151.88" y="583.12" width="1.71" height="87.78" fill="#2a7632"/>
<rect x="154.06" y="627.01" width="1.71" height="43.89" fill="#40addd"/>
<rect x="156.24" y="583.12" width="1.71" height="87.78" fill="#a53aa2"/>
<text x="152.74" y="683.60" font-size="9" text-anchor="middle" dominant-baseline="central" fill="#595959" stroke="#595959" stroke-width="0.28">2b</text>
<rect x="161.71" y="627.01" width="1.71" height="43.89" fill="#2c698c"/>
<rect x="163.88" y="583.12" width="1.71" height="87.78" fill="#e9793b"/>
<rect x="166.06" y="627.01" width="1.71" height="43.89" fill="#2a7632"/>
<rect x="168.24" y="583.12" width="1.71" height="87.78" fill="#40addd"/>
<rect x="170.42" y="627.01" width="1.71" height="43.89" fill="#a53aa2"/>
<text x="166.92" y="683.60" font-size="9" text-anchor="middle" dominant-baseline="central" fill="#595959" stroke="#595959" stroke-width="0.28">3b</text>
<rect x="175.89" y="539.23" width="1.71" height="131.67" fill="#2c698c"/>
<rect x="178.06" y="495.34" width="1.71" height="175.56" fill="#e9793b"/>
<rect x="180.24" y="539.23" width="1.71" height="131.67" fill="#2a7632"/>
<rect x="182.42" y="495.34" width="1.71" height="175.56" fill="#40addd"/>
<rect x="184.60" y="539.23" width="1.71" height="131.67" fill="#a53aa2"/>
<text x="181.10" y="683.60" font-size="9" text-anchor="middle" dominant-baseline="central" fill="#595959" stroke="#595959" stroke-width="0.28">4b</text>
<rect x="190.07" y="627.01" width="1.71" height="43.89" fill="#2c698c"/>
<rect x="192.25" y="627.01" width="1.71" height="43.89" fill="#e9793b"/>
<rect x="194.42" y="583.12" width="1.71" height="87.78" fill="#2a7632"/>
<rect x="196.60" y="627.01" width="1.71" height="43.89" fill="#40addd"/>
<rect x="198.78" y="583.12" width="1.71" height="87.78" fill="#a53aa2"/>
<text x="195.28" y="683.60" font-size="9" text-anchor="middle" dominant-baseline="central" fill="#595959" stroke="#595959" stroke-width="0.28">5b</text>
<rect x="204.25" y="627.01" width="1.71" height="43.89" fill="#2c698c"/>
<rect x="206.43" y="627.01" width="1.71" height="43.89" fill="#e9793b"/>
<rect x="208.60" y="627.01" width="1.71" height="43.89" fill="#2a7632"/>
<rect x="210.78" y="627.01" width="1.71" height="43.89" fill="#40addd"/>
<rect x="212.96" y="627.01" width="1.71" height="43.89" fill="#a53aa2"/>
<text x="209.46" y="683.60" font-size="9" text-anchor="middle" dominant-baseline="central" fill="#595959" stroke="#595959" stroke-width="0.28">6b</text>
<rect x="218.43" y="583.12" width="1.71" height="87.78" fill="#2c698c"/>
<rect x="220.61" y="583.12" width="1.71" height="87.78" fill="#e9793b"/>
<rect x="222.79" y="583.12" width="1.71" height="87.78" fill="#2a7632"/>
<rect x="224.96" y="583.12" width="1.71" height="87.78" fill="#40addd"/>
<rect x="227.14" y="583.12" width="1.71" height="87.78" fill="#a53aa2"/>
<text x="223.64" y="683.60" font-size="9" text-anchor="middle" dominant-baseline="central" fill="#595959" stroke="#595959" stroke-width="0.28">7b</text>
<rect x="232.61" y="627.01" width="1.71" height="43.89" fill="#2c698c"/>
<rect x="234.79" y="627.01" width="1.71" height="43.89" fill="#e9793b"/>
<rect x="236.97" y="627.01" width="1.71" height="43.89" fill="#2a7632"/>
<rect x="239.14" y="627.01" width="1.71" height="43.89" fill="#40addd"/>
<rect x="241.32" y="627.01" width="1.71" height="43.89" fill="#a53aa2"/>
<text x="237.82" y="683.60" font-size="9" text-anchor="middle" dominant-baseline="central" fill="#595959" stroke="#595959" stroke-width="0.28">1c</text>
<rect x="246.79" y="539.23" width="1.71" height="131.67" fill="#2c698c"/>
<rect x="248.97" y="583.12" width="1.71" height="87.78" fill="#e9793b"/>
<rect x="251.15" y="583.12" width="1.71" height="87.78" fill="#2a7632"/>
<rect x="253.33" y="583.12" width="1.71" height="87.78" fill="#40addd"/>
<rect x="255.50" y="583.12" width="1.71" height="87.78" fill="#a53aa2"/>
<text x="252.00" y="683.60" font-size="9" text-anchor="middle" dominant-baseline="central" fill="#595959" stroke="#595959" stroke-width="0.28">2c</text>
<rect x="260.97" y="583.12" width="1.71" height="87.78" fill="#2c698c"/>
<rect x="263.15" y="583.12" width="1.71" height="87.78" fill="#e9793b"/>
<rect x="265.33" y="583.12" width="1.71" height="87.78" fill="#2a7632"/>
<rect x="267.51" y="627.01" width="1.71" height="43.89" fill="#40addd"/>
<rect x="269.68" y="583.12" width="1.71" height="87.78" fill="#a53aa2"/>
<text x="266.19" y="683.60" font-size="9" text-anchor="middle" dominant-baseline="central" fill="#595959" stroke="#595959" stroke-width="0.28">3c</text>
<rect x="275.15" y="539.23" width="1.71" height="131.67" fill="#2c698c"/>
<rect x="277.33" y="539.23" width="1.71" height="131.67" fill="#e9793b"/>
<rect x="279.51" y="583.12" width="1.71" height="87.78" fill="#2a7632"/>
<rect x="281.69" y="539.23" width="1.71" height="131.67" fill="#40addd"/>
<rect x="283.86" y="583.12" width="1.71" height="87.78" fill="#a53aa2"/>
<text x="280.37" y="683.60" font-size="9" text-anchor="middle" dominant-baseline="central" fill="#595959" stroke="#595959" stroke-width="0.28">4c</text>
<rect x="289.33" y="627.01" width="1.71" height="43.89" fill="#2c698c"/>
<rect x="291.51" y="627.01" width="1.71" height="43.89" fill="#e9793b"/>
<rect x="293.69" y="627.01" width="1.71" height="43.89" fill="#2a7632"/>
<rect x="295.87" y="627.01" width="1.71" height="43.89" fill="#40addd"/>
<rect x="298.05" y="627.01" width="1.71" height="43.89" fill="#a53aa2"/>
<text x="294.55" y="683.60" font-size="9" text-anchor="middle" dominant-baseline="central" fill="#595959" stroke="#595959" stroke-width="0.28">5c</text>
<rect x="303.52" y="539.23" width="1.71" height="131.67" fill="#2c698c"/>
<rect x="305.69" y="539.23" width="1.71" height="131.67" fill="#e9793b"/>
<rect x="307.87" y="583.12" width="1.71" height="87.78" fill="#2a7632"/>
<rect x="310.05" y="583.12" width="1.71" height="87.78" fill="#40addd"/>
<rect x="312.23" y="583.12" width="1.71" height="87.78" fill="#a53aa2"/>
<text x="308.73" y="683.60" font-size="9" text-anchor="middle" dominant-baseline="central" fill="#595959" stroke="#595959" stroke-width="0.28">6c</text>
<rect x="317.70" y="627.01" width="1.71" height="43.89" fill="#2c698c"/>
<rect x="319.87" y="627.01" width="1.71" height="43.89" fill="#e9793b"/>
<rect x="322.05" y="627.01" width="1.71" height="43.89" fill="#2a7632"/>
<rect x="324.23" y="627.01" width="1.71" height="43.89" fill="#40addd"/>
<rect x="326.41" y="627.01" width="1.71" height="43.89" fill="#a53aa2"/>
<text x="322.91" y="683.60" font-size="9" text-anchor="middle" dominant-baseline="central" fill="#595959" stroke="#595959" stroke-width="0.28">7c</text>
<rect x="96.90" y="703.50" width="5.30" height="5.50" fill="#2c698c"/>
<text x="104.70" y="705.80" font-size="8.95" text-anchor="start" dominant-baseline="central" fill="#595959" stroke="#595959" stroke-width="0.28">R#1</text>
<rect x="129.50" y="703.50" width="5.30" height="5.50" fill="#e9793b"/>
<text x="137.30" y="705.80" font-size="8.95" text-anchor="start" dominant-baseline="central" fill="#595959" stroke="#595959" stroke-width="0.28">R#2</text>
<rect x="162.10" y="703.50" width="5.30" height="5.50" fill="#2a7632"/>
<text x="169.90" y="705.80" font-size="8.95" text-anchor="start" dominant-baseline="central" fill="#595959" stroke="#595959" stroke-width="0.28">R#3</text>
<rect x="194.70" y="703.50" width="5.30" height="5.50" fill="#40addd"/>
<text x="202.50" y="705.80" font-size="8.95" text-anchor="start" dominant-baseline="central" fill="#595959" stroke="#595959" stroke-width="0.28">R#4</text>
<rect x="227.30" y="703.50" width="5.30" height="5.50" fill="#a53aa2"/>
<text x="235.10" y="705.80" font-size="8.95" text-anchor="start" dominant-baseline="central" fill="#595959" stroke="#595959" stroke-width="0.28">R#5</text>
<text x="172.30" y="453.30" font-size="10.8" text-anchor="middle" dominant-baseline="central" fill="#595959" stroke="#595959" stroke-width="0.1" textLength="218.0" lengthAdjust="spacingAndGlyphs">Combined Frequency Plot - Factual Accuracy</text>
<rect x="342.5" y="437.5" width="340.00" height="285.00" fill="#fff" stroke="#dfdfdf" stroke-width="1"/>
<line x1="372.20" y1="671.40" x2="670.00" y2="671.40" stroke="#e2e2e2" stroke-width="1.3"/>
<text x="363.00" y="669.90" font-size="9.6" text-anchor="end" dominant-baseline="central" fill="#595959" stroke="#595959" stroke-width="0.25">0</text>
<line x1="372.20" y1="649.46" x2="670.00" y2="649.46" stroke="#e2e2e2" stroke-width="1.3"/>
<text x="363.00" y="647.96" font-size="9.6" text-anchor="end" dominant-baseline="central" fill="#595959" stroke="#595959" stroke-width="0.25">0,5</text>
<line x1="372.20" y1="627.51" x2="670.00" y2="627.51" stroke="#e2e2e2" stroke-width="1.3"/>
<text x="363.00" y="626.01" font-size="9.6" text-anchor="end" dominant-baseline="central" fill="#595959" stroke="#595959" stroke-width="0.25">1</text>
<line x1="372.20" y1="605.57" x2="670.00" y2="605.57" stroke="#e2e2e2" stroke-width="1.3"/>
<text x="363.00" y="604.07" font-size="9.6" text-anchor="end" dominant-baseline="central" fill="#595959" stroke="#595959" stroke-width="0.25">1,5</text>
<line x1="372.20" y1="583.62" x2="670.00" y2="583.62" stroke="#e2e2e2" stroke-width="1.3"/>
<text x="363.00" y="582.12" font-size="9.6" text-anchor="end" dominant-baseline="central" fill="#595959" stroke="#595959" stroke-width="0.25">2</text>
<line x1="372.20" y1="561.68" x2="670.00" y2="561.68" stroke="#e2e2e2" stroke-width="1.3"/>
<text x="363.00" y="560.18" font-size="9.6" text-anchor="end" dominant-baseline="central" fill="#595959" stroke="#595959" stroke-width="0.25">2,5</text>
<line x1="372.20" y1="539.73" x2="670.00" y2="539.73" stroke="#e2e2e2" stroke-width="1.3"/>
<text x="363.00" y="538.23" font-size="9.6" text-anchor="end" dominant-baseline="central" fill="#595959" stroke="#595959" stroke-width="0.25">3</text>
<line x1="372.20" y1="517.79" x2="670.00" y2="517.79" stroke="#e2e2e2" stroke-width="1.3"/>
<text x="363.00" y="516.29" font-size="9.6" text-anchor="end" dominant-baseline="central" fill="#595959" stroke="#595959" stroke-width="0.25">3,5</text>
<line x1="372.20" y1="495.84" x2="670.00" y2="495.84" stroke="#e2e2e2" stroke-width="1.3"/>
<text x="363.00" y="494.34" font-size="9.6" text-anchor="end" dominant-baseline="central" fill="#595959" stroke="#595959" stroke-width="0.25">4</text>
<line x1="372.20" y1="473.90" x2="670.00" y2="473.90" stroke="#e2e2e2" stroke-width="1.3"/>
<text x="363.00" y="472.40" font-size="9.6" text-anchor="end" dominant-baseline="central" fill="#595959" stroke="#595959" stroke-width="0.25">4,5</text>
<rect x="374.08" y="539.73" width="1.71" height="131.67" fill="#2c698c"/>
<rect x="376.26" y="583.62" width="1.71" height="87.78" fill="#e9793b"/>
<rect x="378.43" y="539.73" width="1.71" height="131.67" fill="#2a7632"/>
<rect x="380.61" y="539.73" width="1.71" height="131.67" fill="#40addd"/>
<rect x="382.79" y="539.73" width="1.71" height="131.67" fill="#a53aa2"/>
<text x="379.29" y="684.20" font-size="9" text-anchor="middle" dominant-baseline="central" fill="#595959" stroke="#595959" stroke-width="0.28">1a</text>
<rect x="388.26" y="583.62" width="1.71" height="87.78" fill="#2c698c"/>
<rect x="390.44" y="583.62" width="1.71" height="87.78" fill="#e9793b"/>
<rect x="392.61" y="583.62" width="1.71" height="87.78" fill="#2a7632"/>
<rect x="394.79" y="583.62" width="1.71" height="87.78" fill="#40addd"/>
<rect x="396.97" y="583.62" width="1.71" height="87.78" fill="#a53aa2"/>
<text x="393.47" y="684.20" font-size="9" text-anchor="middle" dominant-baseline="central" fill="#595959" stroke="#595959" stroke-width="0.28">2a</text>
<rect x="402.44" y="495.84" width="1.71" height="175.56" fill="#2c698c"/>
<rect x="404.62" y="539.73" width="1.71" height="131.67" fill="#e9793b"/>
<rect x="406.80" y="495.84" width="1.71" height="175.56" fill="#2a7632"/>
<rect x="408.97" y="495.84" width="1.71" height="175.56" fill="#40addd"/>
<rect x="411.15" y="495.84" width="1.71" height="175.56" fill="#a53aa2"/>
<text x="407.65" y="684.20" font-size="9" text-anchor="middle" dominant-baseline="central" fill="#595959" stroke="#595959" stroke-width="0.28">3a</text>
<rect x="416.62" y="539.73" width="1.71" height="131.67" fill="#2c698c"/>
<rect x="418.80" y="539.73" width="1.71" height="131.67" fill="#e9793b"/>
<rect x="420.98" y="539.73" width="1.71" height="131.67" fill="#2a7632"/>
<rect x="423.15" y="583.62" width="1.71" height="87.78" fill="#40addd"/>
<rect x="425.33" y="539.73" width="1.71" height="131.67" fill="#a53aa2"/>
<text x="421.83" y="684.20" font-size="9" text-anchor="middle" dominant-baseline="central" fill="#595959" stroke="#595959" stroke-width="0.28">4a</text>
<rect x="430.80" y="627.51" width="1.71" height="43.89" fill="#2c698c"/>
<rect x="432.98" y="539.73" width="1.71" height="131.67" fill="#e9793b"/>
<rect x="435.16" y="627.51" width="1.71" height="43.89" fill="#2a7632"/>
<rect x="437.33" y="583.62" width="1.71" height="87.78" fill="#40addd"/>
<rect x="439.51" y="627.51" width="1.71" height="43.89" fill="#a53aa2"/>
<text x="436.01" y="684.20" font-size="9" text-anchor="middle" dominant-baseline="central" fill="#595959" stroke="#595959" stroke-width="0.28">5a</text>
<rect x="444.98" y="627.51" width="1.71" height="43.89" fill="#2c698c"/>
<rect x="447.16" y="627.51" width="1.71" height="43.89" fill="#e9793b"/>
<rect x="449.34" y="583.62" width="1.71" height="87.78" fill="#2a7632"/>
<rect x="451.52" y="583.62" width="1.71" height="87.78" fill="#40addd"/>
<rect x="453.69" y="627.51" width="1.71" height="43.89" fill="#a53aa2"/>
<text x="450.20" y="684.20" font-size="9" text-anchor="middle" dominant-baseline="central" fill="#595959" stroke="#595959" stroke-width="0.28">6a</text>
<rect x="459.16" y="627.51" width="1.71" height="43.89" fill="#2c698c"/>
<rect x="461.34" y="627.51" width="1.71" height="43.89" fill="#e9793b"/>
<rect x="463.52" y="627.51" width="1.71" height="43.89" fill="#2a7632"/>
<rect x="465.70" y="583.62" width="1.71" height="87.78" fill="#40addd"/>
<rect x="467.87" y="627.51" width="1.71" height="43.89" fill="#a53aa2"/>
<text x="464.38" y="684.20" font-size="9" text-anchor="middle" dominant-baseline="central" fill="#595959" stroke="#595959" stroke-width="0.28">7a</text>
<rect x="473.34" y="539.73" width="1.71" height="131.67" fill="#2c698c"/>
<rect x="475.52" y="583.62" width="1.71" height="87.78" fill="#e9793b"/>
<rect x="477.70" y="539.73" width="1.71" height="131.67" fill="#2a7632"/>
<rect x="479.88" y="583.62" width="1.71" height="87.78" fill="#40addd"/>
<rect x="482.06" y="583.62" width="1.71" height="87.78" fill="#a53aa2"/>
<text x="478.56" y="684.20" font-size="9" text-anchor="middle" dominant-baseline="central" fill="#595959" stroke="#595959" stroke-width="0.28">1b</text>
<rect x="487.53" y="627.51" width="1.71" height="43.89" fill="#2c698c"/>
<rect x="489.70" y="627.51" width="1.71" height="43.89" fill="#e9793b"/>
<rect x="491.88" y="627.51" width="1.71" height="43.89" fill="#2a7632"/>
<rect x="494.06" y="627.51" width="1.71" height="43.89" fill="#40addd"/>
<rect x="496.24" y="627.51" width="1.71" height="43.89" fill="#a53aa2"/>
<text x="492.74" y="684.20" font-size="9" text-anchor="middle" dominant-baseline="central" fill="#595959" stroke="#595959" stroke-width="0.28">2b</text>
<rect x="501.71" y="583.62" width="1.71" height="87.78" fill="#2c698c"/>
<rect x="503.88" y="539.73" width="1.71" height="131.67" fill="#e9793b"/>
<rect x="506.06" y="627.51" width="1.71" height="43.89" fill="#2a7632"/>
<rect x="508.24" y="539.73" width="1.71" height="131.67" fill="#40addd"/>
<rect x="510.42" y="539.73" width="1.71" height="131.67" fill="#a53aa2"/>
<text x="506.92" y="684.20" font-size="9" text-anchor="middle" dominant-baseline="central" fill="#595959" stroke="#595959" stroke-width="0.28">3b</text>
<rect x="515.89" y="539.73" width="1.71" height="131.67" fill="#2c698c"/>
<rect x="518.06" y="583.62" width="1.71" height="87.78" fill="#e9793b"/>
<rect x="520.24" y="583.62" width="1.71" height="87.78" fill="#2a7632"/>
<rect x="522.42" y="583.62" width="1.71" height="87.78" fill="#40addd"/>
<rect x="524.60" y="583.62" width="1.71" height="87.78" fill="#a53aa2"/>
<text x="521.10" y="684.20" font-size="9" text-anchor="middle" dominant-baseline="central" fill="#595959" stroke="#595959" stroke-width="0.28">4b</text>
<rect x="530.07" y="627.51" width="1.71" height="43.89" fill="#2c698c"/>
<rect x="532.25" y="627.51" width="1.71" height="43.89" fill="#e9793b"/>
<rect x="534.42" y="627.51" width="1.71" height="43.89" fill="#2a7632"/>
<rect x="536.60" y="583.62" width="1.71" height="87.78" fill="#40addd"/>
<rect x="538.78" y="627.51" width="1.71" height="43.89" fill="#a53aa2"/>
<text x="535.28" y="684.20" font-size="9" text-anchor="middle" dominant-baseline="central" fill="#595959" stroke="#595959" stroke-width="0.28">5b</text>
<rect x="544.25" y="627.51" width="1.71" height="43.89" fill="#2c698c"/>
<rect x="546.43" y="627.51" width="1.71" height="43.89" fill="#e9793b"/>
<rect x="548.60" y="583.62" width="1.71" height="87.78" fill="#2a7632"/>
<rect x="550.78" y="627.51" width="1.71" height="43.89" fill="#40addd"/>
<rect x="552.96" y="627.51" width="1.71" height="43.89" fill="#a53aa2"/>
<text x="549.46" y="684.20" font-size="9" text-anchor="middle" dominant-baseline="central" fill="#595959" stroke="#595959" stroke-width="0.28">6b</text>
<rect x="558.43" y="627.51" width="1.71" height="43.89" fill="#2c698c"/>
<rect x="560.61" y="627.51" width="1.71" height="43.89" fill="#e9793b"/>
<rect x="562.79" y="583.62" width="1.71" height="87.78" fill="#2a7632"/>
<rect x="564.96" y="539.73" width="1.71" height="131.67" fill="#40addd"/>
<rect x="567.14" y="627.51" width="1.71" height="43.89" fill="#a53aa2"/>
<text x="563.64" y="684.20" font-size="9" text-anchor="middle" dominant-baseline="central" fill="#595959" stroke="#595959" stroke-width="0.28">7b</text>
<rect x="572.61" y="539.73" width="1.71" height="131.67" fill="#2c698c"/>
<rect x="574.79" y="539.73" width="1.71" height="131.67" fill="#e9793b"/>
<rect x="576.97" y="539.73" width="1.71" height="131.67" fill="#2a7632"/>
<rect x="579.14" y="539.73" width="1.71" height="131.67" fill="#40addd"/>
<rect x="581.32" y="539.73" width="1.71" height="131.67" fill="#a53aa2"/>
<text x="577.82" y="684.20" font-size="9" text-anchor="middle" dominant-baseline="central" fill="#595959" stroke="#595959" stroke-width="0.28">1c</text>
<rect x="586.79" y="627.51" width="1.71" height="43.89" fill="#2c698c"/>
<rect x="588.97" y="583.62" width="1.71" height="87.78" fill="#e9793b"/>
<rect x="591.15" y="627.51" width="1.71" height="43.89" fill="#2a7632"/>
<rect x="593.33" y="583.62" width="1.71" height="87.78" fill="#40addd"/>
<rect x="595.50" y="583.62" width="1.71" height="87.78" fill="#a53aa2"/>
<text x="592.00" y="684.20" font-size="9" text-anchor="middle" dominant-baseline="central" fill="#595959" stroke="#595959" stroke-width="0.28">2c</text>
<rect x="600.97" y="583.62" width="1.71" height="87.78" fill="#2c698c"/>
<rect x="603.15" y="495.84" width="1.71" height="175.56" fill="#e9793b"/>
<rect x="605.33" y="583.62" width="1.71" height="87.78" fill="#2a7632"/>
<rect x="607.51" y="495.84" width="1.71" height="175.56" fill="#40addd"/>
<rect x="609.68" y="495.84" width="1.71" height="175.56" fill="#a53aa2"/>
<text x="606.19" y="684.20" font-size="9" text-anchor="middle" dominant-baseline="central" fill="#595959" stroke="#595959" stroke-width="0.28">3c</text>
<rect x="615.15" y="539.73" width="1.71" height="131.67" fill="#2c698c"/>
<rect x="617.33" y="539.73" width="1.71" height="131.67" fill="#e9793b"/>
<rect x="619.51" y="539.73" width="1.71" height="131.67" fill="#2a7632"/>
<rect x="621.69" y="539.73" width="1.71" height="131.67" fill="#40addd"/>
<rect x="623.86" y="539.73" width="1.71" height="131.67" fill="#a53aa2"/>
<text x="620.37" y="684.20" font-size="9" text-anchor="middle" dominant-baseline="central" fill="#595959" stroke="#595959" stroke-width="0.28">4c</text>
<rect x="629.33" y="627.51" width="1.71" height="43.89" fill="#2c698c"/>
<rect x="631.51" y="627.51" width="1.71" height="43.89" fill="#e9793b"/>
<rect x="633.69" y="627.51" width="1.71" height="43.89" fill="#2a7632"/>
<rect x="635.87" y="627.51" width="1.71" height="43.89" fill="#40addd"/>
<rect x="638.05" y="627.51" width="1.71" height="43.89" fill="#a53aa2"/>
<text x="634.55" y="684.20" font-size="9" text-anchor="middle" dominant-baseline="central" fill="#595959" stroke="#595959" stroke-width="0.28">5c</text>
<rect x="643.52" y="627.51" width="1.71" height="43.89" fill="#2c698c"/>
<rect x="645.69" y="627.51" width="1.71" height="43.89" fill="#e9793b"/>
<rect x="647.87" y="627.51" width="1.71" height="43.89" fill="#2a7632"/>
<rect x="650.05" y="627.51" width="1.71" height="43.89" fill="#40addd"/>
<rect x="652.23" y="627.51" width="1.71" height="43.89" fill="#a53aa2"/>
<text x="648.73" y="684.20" font-size="9" text-anchor="middle" dominant-baseline="central" fill="#595959" stroke="#595959" stroke-width="0.28">6c</text>
<rect x="657.70" y="627.51" width="1.71" height="43.89" fill="#2c698c"/>
<rect x="659.87" y="627.51" width="1.71" height="43.89" fill="#e9793b"/>
<rect x="662.05" y="627.51" width="1.71" height="43.89" fill="#2a7632"/>
<rect x="664.23" y="627.51" width="1.71" height="43.89" fill="#40addd"/>
<rect x="666.41" y="627.51" width="1.71" height="43.89" fill="#a53aa2"/>
<text x="662.91" y="684.20" font-size="9" text-anchor="middle" dominant-baseline="central" fill="#595959" stroke="#595959" stroke-width="0.28">7c</text>
<rect x="436.90" y="704.00" width="5.30" height="5.50" fill="#2c698c"/>
<text x="444.70" y="706.30" font-size="8.95" text-anchor="start" dominant-baseline="central" fill="#595959" stroke="#595959" stroke-width="0.28">R#1</text>
<rect x="469.50" y="704.00" width="5.30" height="5.50" fill="#e9793b"/>
<text x="477.30" y="706.30" font-size="8.95" text-anchor="start" dominant-baseline="central" fill="#595959" stroke="#595959" stroke-width="0.28">R#2</text>
<rect x="502.10" y="704.00" width="5.30" height="5.50" fill="#2a7632"/>
<text x="509.90" y="706.30" font-size="8.95" text-anchor="start" dominant-baseline="central" fill="#595959" stroke="#595959" stroke-width="0.28">R#3</text>
<rect x="534.70" y="704.00" width="5.30" height="5.50" fill="#40addd"/>
<text x="542.50" y="706.30" font-size="8.95" text-anchor="start" dominant-baseline="central" fill="#595959" stroke="#595959" stroke-width="0.28">R#4</text>
<rect x="567.30" y="704.00" width="5.30" height="5.50" fill="#a53aa2"/>
<text x="575.10" y="706.30" font-size="8.95" text-anchor="start" dominant-baseline="central" fill="#595959" stroke="#595959" stroke-width="0.28">R#5</text>
<text x="512.30" y="454.00" font-size="10.8" text-anchor="middle" dominant-baseline="central" fill="#595959" stroke="#595959" stroke-width="0.1" textLength="204.0" lengthAdjust="spacingAndGlyphs">Combined Frequency Plot - Completeness</text>
<rect x="172.5" y="722.5" width="340.00" height="307.50" fill="#fff" stroke="#dfdfdf" stroke-width="1"/>
<line x1="192.40" y1="985.60" x2="496.80" y2="985.60" stroke="#e2e2e2" stroke-width="1.3"/>
<text x="182.10" y="984.20" font-size="9.6" text-anchor="end" dominant-baseline="central" fill="#595959" stroke="#595959" stroke-width="0.25">0</text>
<line x1="192.40" y1="949.60" x2="496.80" y2="949.60" stroke="#e2e2e2" stroke-width="1.3"/>
<text x="182.10" y="948.20" font-size="9.6" text-anchor="end" dominant-baseline="central" fill="#595959" stroke="#595959" stroke-width="0.25">1</text>
<line x1="192.40" y1="913.60" x2="496.80" y2="913.60" stroke="#e2e2e2" stroke-width="1.3"/>
<text x="182.10" y="912.20" font-size="9.6" text-anchor="end" dominant-baseline="central" fill="#595959" stroke="#595959" stroke-width="0.25">2</text>
<line x1="192.40" y1="877.60" x2="496.80" y2="877.60" stroke="#e2e2e2" stroke-width="1.3"/>
<text x="182.10" y="876.20" font-size="9.6" text-anchor="end" dominant-baseline="central" fill="#595959" stroke="#595959" stroke-width="0.25">3</text>
<line x1="192.40" y1="841.60" x2="496.80" y2="841.60" stroke="#e2e2e2" stroke-width="1.3"/>
<text x="182.10" y="840.20" font-size="9.6" text-anchor="end" dominant-baseline="central" fill="#595959" stroke="#595959" stroke-width="0.25">4</text>
<line x1="192.40" y1="805.60" x2="496.80" y2="805.60" stroke="#e2e2e2" stroke-width="1.3"/>
<text x="182.10" y="804.20" font-size="9.6" text-anchor="end" dominant-baseline="central" fill="#595959" stroke="#595959" stroke-width="0.25">5</text>
<line x1="192.40" y1="769.60" x2="496.80" y2="769.60" stroke="#e2e2e2" stroke-width="1.3"/>
<text x="182.10" y="768.20" font-size="9.6" text-anchor="end" dominant-baseline="central" fill="#595959" stroke="#595959" stroke-width="0.25">6</text>
<rect x="193.87" y="805.60" width="1.75" height="180.00" fill="#2c698c"/>
<rect x="196.10" y="805.60" width="1.75" height="180.00" fill="#e9793b"/>
<rect x="198.32" y="805.60" width="1.75" height="180.00" fill="#2a7632"/>
<rect x="200.55" y="805.60" width="1.75" height="180.00" fill="#40addd"/>
<rect x="202.77" y="805.60" width="1.75" height="180.00" fill="#a53aa2"/>
<text x="198.75" y="998.20" font-size="9" text-anchor="middle" dominant-baseline="central" fill="#595959" stroke="#595959" stroke-width="0.28">1a</text>
<rect x="208.36" y="841.60" width="1.75" height="144.00" fill="#2c698c"/>
<rect x="210.59" y="841.60" width="1.75" height="144.00" fill="#e9793b"/>
<rect x="212.82" y="877.60" width="1.75" height="108.00" fill="#2a7632"/>
<rect x="215.04" y="841.60" width="1.75" height="144.00" fill="#40addd"/>
<rect x="217.27" y="841.60" width="1.75" height="144.00" fill="#a53aa2"/>
<text x="213.24" y="998.20" font-size="9" text-anchor="middle" dominant-baseline="central" fill="#595959" stroke="#595959" stroke-width="0.28">2a</text>
<rect x="222.86" y="805.60" width="1.75" height="180.00" fill="#2c698c"/>
<rect x="225.09" y="805.60" width="1.75" height="180.00" fill="#e9793b"/>
<rect x="227.31" y="805.60" width="1.75" height="180.00" fill="#2a7632"/>
<rect x="229.54" y="805.60" width="1.75" height="180.00" fill="#40addd"/>
<rect x="231.76" y="805.60" width="1.75" height="180.00" fill="#a53aa2"/>
<text x="227.74" y="998.20" font-size="9" text-anchor="middle" dominant-baseline="central" fill="#595959" stroke="#595959" stroke-width="0.28">3a</text>
<rect x="237.35" y="877.60" width="1.75" height="108.00" fill="#2c698c"/>
<rect x="239.58" y="913.60" width="1.75" height="72.00" fill="#e9793b"/>
<rect x="241.81" y="913.60" width="1.75" height="72.00" fill="#2a7632"/>
<rect x="244.03" y="877.60" width="1.75" height="108.00" fill="#40addd"/>
<rect x="246.26" y="877.60" width="1.75" height="108.00" fill="#a53aa2"/>
<text x="242.23" y="998.20" font-size="9" text-anchor="middle" dominant-baseline="central" fill="#595959" stroke="#595959" stroke-width="0.28">4a</text>
<rect x="251.85" y="805.60" width="1.75" height="180.00" fill="#2c698c"/>
<rect x="254.08" y="841.60" width="1.75" height="144.00" fill="#e9793b"/>
<rect x="256.30" y="805.60" width="1.75" height="180.00" fill="#2a7632"/>
<rect x="258.53" y="805.60" width="1.75" height="180.00" fill="#40addd"/>
<rect x="260.75" y="805.60" width="1.75" height="180.00" fill="#a53aa2"/>
<text x="256.73" y="998.20" font-size="9" text-anchor="middle" dominant-baseline="central" fill="#595959" stroke="#595959" stroke-width="0.28">5a</text>
<rect x="266.35" y="805.60" width="1.75" height="180.00" fill="#2c698c"/>
<rect x="268.57" y="805.60" width="1.75" height="180.00" fill="#e9793b"/>
<rect x="270.80" y="805.60" width="1.75" height="180.00" fill="#2a7632"/>
<rect x="273.02" y="805.60" width="1.75" height="180.00" fill="#40addd"/>
<rect x="275.25" y="805.60" width="1.75" height="180.00" fill="#a53aa2"/>
<text x="271.22" y="998.20" font-size="9" text-anchor="middle" dominant-baseline="central" fill="#595959" stroke="#595959" stroke-width="0.28">6a</text>
<rect x="280.84" y="805.60" width="1.75" height="180.00" fill="#2c698c"/>
<rect x="283.07" y="805.60" width="1.75" height="180.00" fill="#e9793b"/>
<rect x="285.29" y="805.60" width="1.75" height="180.00" fill="#2a7632"/>
<rect x="287.52" y="805.60" width="1.75" height="180.00" fill="#40addd"/>
<rect x="289.74" y="805.60" width="1.75" height="180.00" fill="#a53aa2"/>
<text x="285.72" y="998.20" font-size="9" text-anchor="middle" dominant-baseline="central" fill="#595959" stroke="#595959" stroke-width="0.28">7a</text>
<rect x="295.34" y="841.60" width="1.75" height="144.00" fill="#2c698c"/>
<rect x="297.56" y="877.60" width="1.75" height="108.00" fill="#e9793b"/>
<rect x="299.79" y="841.60" width="1.75" height="144.00" fill="#2a7632"/>
<rect x="302.01" y="805.60" width="1.75" height="180.00" fill="#40addd"/>
<rect x="304.24" y="841.60" width="1.75" height="144.00" fill="#a53aa2"/>
<text x="300.21" y="998.20" font-size="9" text-anchor="middle" dominant-baseline="central" fill="#595959" stroke="#595959" stroke-width="0.28">1b</text>
<rect x="309.83" y="949.60" width="1.75" height="36.00" fill="#2c698c"/>
<rect x="312.06" y="805.60" width="1.75" height="180.00" fill="#e9793b"/>
<rect x="314.28" y="805.60" width="1.75" height="180.00" fill="#2a7632"/>
<rect x="316.51" y="805.60" width="1.75" height="180.00" fill="#40addd"/>
<rect x="318.74" y="805.60" width="1.75" height="180.00" fill="#a53aa2"/>
<text x="314.71" y="998.20" font-size="9" text-anchor="middle" dominant-baseline="central" fill="#595959" stroke="#595959" stroke-width="0.28">2b</text>
<rect x="324.33" y="805.60" width="1.75" height="180.00" fill="#2c698c"/>
<rect x="326.55" y="841.60" width="1.75" height="144.00" fill="#e9793b"/>
<rect x="328.78" y="805.60" width="1.75" height="180.00" fill="#2a7632"/>
<rect x="331.00" y="841.60" width="1.75" height="144.00" fill="#40addd"/>
<rect x="333.23" y="805.60" width="1.75" height="180.00" fill="#a53aa2"/>
<text x="329.20" y="998.20" font-size="9" text-anchor="middle" dominant-baseline="central" fill="#595959" stroke="#595959" stroke-width="0.28">3b</text>
<rect x="338.82" y="877.60" width="1.75" height="108.00" fill="#2c698c"/>
<rect x="341.05" y="877.60" width="1.75" height="108.00" fill="#e9793b"/>
<rect x="343.27" y="913.60" width="1.75" height="72.00" fill="#2a7632"/>
<rect x="345.50" y="877.60" width="1.75" height="108.00" fill="#40addd"/>
<rect x="347.73" y="913.60" width="1.75" height="72.00" fill="#a53aa2"/>
<text x="343.70" y="998.20" font-size="9" text-anchor="middle" dominant-baseline="central" fill="#595959" stroke="#595959" stroke-width="0.28">4b</text>
<rect x="353.32" y="805.60" width="1.75" height="180.00" fill="#2c698c"/>
<rect x="355.54" y="805.60" width="1.75" height="180.00" fill="#e9793b"/>
<rect x="357.77" y="805.60" width="1.75" height="180.00" fill="#2a7632"/>
<rect x="359.99" y="805.60" width="1.75" height="180.00" fill="#40addd"/>
<rect x="362.22" y="805.60" width="1.75" height="180.00" fill="#a53aa2"/>
<text x="358.20" y="998.20" font-size="9" text-anchor="middle" dominant-baseline="central" fill="#595959" stroke="#595959" stroke-width="0.28">5b</text>
<rect x="367.81" y="805.60" width="1.75" height="180.00" fill="#2c698c"/>
<rect x="370.04" y="805.60" width="1.75" height="180.00" fill="#e9793b"/>
<rect x="372.26" y="805.60" width="1.75" height="180.00" fill="#2a7632"/>
<rect x="374.49" y="805.60" width="1.75" height="180.00" fill="#40addd"/>
<rect x="376.72" y="805.60" width="1.75" height="180.00" fill="#a53aa2"/>
<text x="372.69" y="998.20" font-size="9" text-anchor="middle" dominant-baseline="central" fill="#595959" stroke="#595959" stroke-width="0.28">6b</text>
<rect x="382.31" y="841.60" width="1.75" height="144.00" fill="#2c698c"/>
<rect x="384.53" y="841.60" width="1.75" height="144.00" fill="#e9793b"/>
<rect x="386.76" y="805.60" width="1.75" height="180.00" fill="#2a7632"/>
<rect x="388.99" y="877.60" width="1.75" height="108.00" fill="#40addd"/>
<rect x="391.21" y="805.60" width="1.75" height="180.00" fill="#a53aa2"/>
<text x="387.19" y="998.20" font-size="9" text-anchor="middle" dominant-baseline="central" fill="#595959" stroke="#595959" stroke-width="0.28">7b</text>
<rect x="396.80" y="841.60" width="1.75" height="144.00" fill="#2c698c"/>
<rect x="399.03" y="805.60" width="1.75" height="180.00" fill="#e9793b"/>
<rect x="401.25" y="841.60" width="1.75" height="144.00" fill="#2a7632"/>
<rect x="403.48" y="805.60" width="1.75" height="180.00" fill="#40addd"/>
<rect x="405.71" y="841.60" width="1.75" height="144.00" fill="#a53aa2"/>
<text x="401.68" y="998.20" font-size="9" text-anchor="middle" dominant-baseline="central" fill="#595959" stroke="#595959" stroke-width="0.28">1c</text>
<rect x="411.30" y="805.60" width="1.75" height="180.00" fill="#2c698c"/>
<rect x="413.52" y="841.60" width="1.75" height="144.00" fill="#e9793b"/>
<rect x="415.75" y="805.60" width="1.75" height="180.00" fill="#2a7632"/>
<rect x="417.98" y="841.60" width="1.75" height="144.00" fill="#40addd"/>
<rect x="420.20" y="805.60" width="1.75" height="180.00" fill="#a53aa2"/>
<text x="416.18" y="998.20" font-size="9" text-anchor="middle" dominant-baseline="central" fill="#595959" stroke="#595959" stroke-width="0.28">2c</text>
<rect x="425.79" y="805.60" width="1.75" height="180.00" fill="#2c698c"/>
<rect x="428.02" y="805.60" width="1.75" height="180.00" fill="#e9793b"/>
<rect x="430.25" y="805.60" width="1.75" height="180.00" fill="#2a7632"/>
<rect x="432.47" y="805.60" width="1.75" height="180.00" fill="#40addd"/>
<rect x="434.70" y="805.60" width="1.75" height="180.00" fill="#a53aa2"/>
<text x="430.67" y="998.20" font-size="9" text-anchor="middle" dominant-baseline="central" fill="#595959" stroke="#595959" stroke-width="0.28">3c</text>
<rect x="440.29" y="913.60" width="1.75" height="72.00" fill="#2c698c"/>
<rect x="442.51" y="877.60" width="1.75" height="108.00" fill="#e9793b"/>
<rect x="444.74" y="913.60" width="1.75" height="72.00" fill="#2a7632"/>
<rect x="446.97" y="841.60" width="1.75" height="144.00" fill="#40addd"/>
<rect x="449.19" y="913.60" width="1.75" height="72.00" fill="#a53aa2"/>
<text x="445.17" y="998.20" font-size="9" text-anchor="middle" dominant-baseline="central" fill="#595959" stroke="#595959" stroke-width="0.28">4c</text>
<rect x="454.78" y="805.60" width="1.75" height="180.00" fill="#2c698c"/>
<rect x="457.01" y="805.60" width="1.75" height="180.00" fill="#e9793b"/>
<rect x="459.24" y="805.60" width="1.75" height="180.00" fill="#2a7632"/>
<rect x="461.46" y="805.60" width="1.75" height="180.00" fill="#40addd"/>
<rect x="463.69" y="805.60" width="1.75" height="180.00" fill="#a53aa2"/>
<text x="459.66" y="998.20" font-size="9" text-anchor="middle" dominant-baseline="central" fill="#595959" stroke="#595959" stroke-width="0.28">5c</text>
<rect x="469.28" y="805.60" width="1.75" height="180.00" fill="#2c698c"/>
<rect x="471.50" y="805.60" width="1.75" height="180.00" fill="#e9793b"/>
<rect x="473.73" y="841.60" width="1.75" height="144.00" fill="#2a7632"/>
<rect x="475.96" y="805.60" width="1.75" height="180.00" fill="#40addd"/>
<rect x="478.18" y="805.60" width="1.75" height="180.00" fill="#a53aa2"/>
<text x="474.16" y="998.20" font-size="9" text-anchor="middle" dominant-baseline="central" fill="#595959" stroke="#595959" stroke-width="0.28">6c</text>
<rect x="483.77" y="805.60" width="1.75" height="180.00" fill="#2c698c"/>
<rect x="486.00" y="805.60" width="1.75" height="180.00" fill="#e9793b"/>
<rect x="488.23" y="805.60" width="1.75" height="180.00" fill="#2a7632"/>
<rect x="490.45" y="805.60" width="1.75" height="180.00" fill="#40addd"/>
<rect x="492.68" y="805.60" width="1.75" height="180.00" fill="#a53aa2"/>
<text x="488.65" y="998.20" font-size="9" text-anchor="middle" dominant-baseline="central" fill="#595959" stroke="#595959" stroke-width="0.28">7c</text>
<rect x="266.40" y="1007.50" width="5.30" height="5.50" fill="#2c698c"/>
<text x="274.20" y="1009.80" font-size="8.95" text-anchor="start" dominant-baseline="central" fill="#595959" stroke="#595959" stroke-width="0.28">R#1</text>
<rect x="299.00" y="1007.50" width="5.30" height="5.50" fill="#e9793b"/>
<text x="306.80" y="1009.80" font-size="8.95" text-anchor="start" dominant-baseline="central" fill="#595959" stroke="#595959" stroke-width="0.28">R#2</text>
<rect x="331.60" y="1007.50" width="5.30" height="5.50" fill="#2a7632"/>
<text x="339.40" y="1009.80" font-size="8.95" text-anchor="start" dominant-baseline="central" fill="#595959" stroke="#595959" stroke-width="0.28">R#3</text>
<rect x="364.20" y="1007.50" width="5.30" height="5.50" fill="#40addd"/>
<text x="372.00" y="1009.80" font-size="8.95" text-anchor="start" dominant-baseline="central" fill="#595959" stroke="#595959" stroke-width="0.28">R#4</text>
<rect x="396.80" y="1007.50" width="5.30" height="5.50" fill="#a53aa2"/>
<text x="404.60" y="1009.80" font-size="8.95" text-anchor="start" dominant-baseline="central" fill="#595959" stroke="#595959" stroke-width="0.28">R#5</text>
<text x="341.60" y="738.70" font-size="10.8" text-anchor="middle" dominant-baseline="central" fill="#595959" stroke="#595959" stroke-width="0.1" textLength="205.3" lengthAdjust="spacingAndGlyphs">Combined Frequency Plot - Potential Harm</text>
</svg>
</body></html>
